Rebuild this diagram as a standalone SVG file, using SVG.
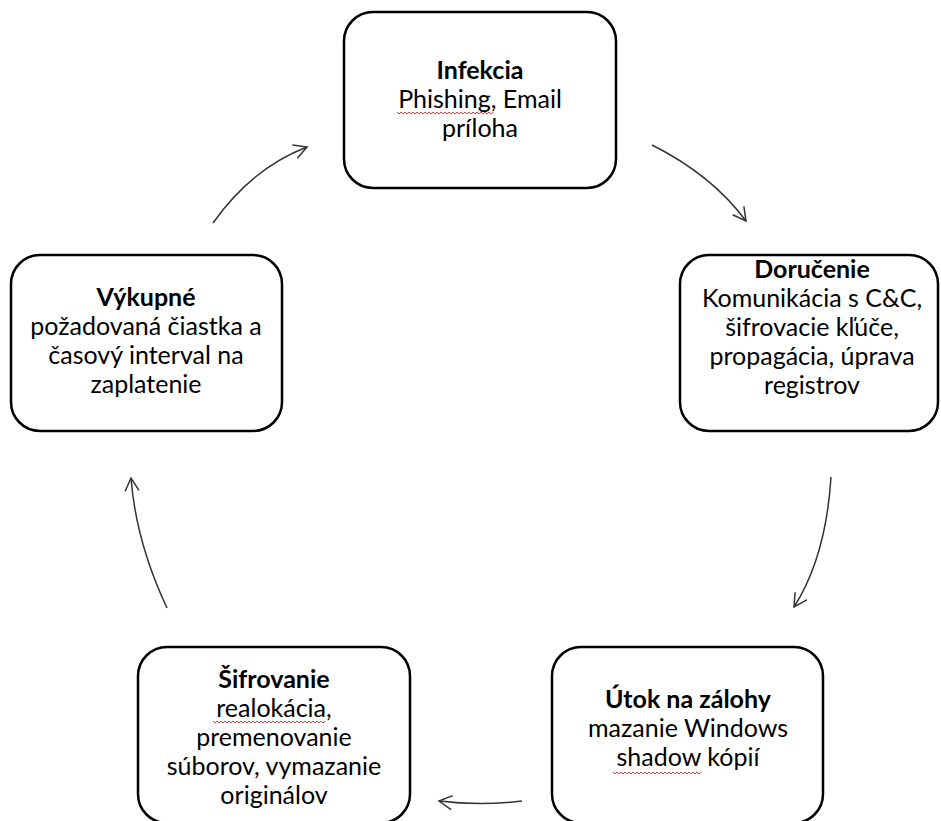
<svg xmlns="http://www.w3.org/2000/svg" width="941" height="821" viewBox="0 0 941 821">
<defs>
<style>
.box{fill:#fff;stroke:#000;stroke-width:2.5}
.t{font-family:Lato,"Open Sans","Liberation Sans",sans-serif;font-size:25px;fill:#000;text-anchor:middle}
.b{font-weight:bold}
.c{fill:none;stroke:#333;stroke-width:1.5}
.sq{fill:none;stroke:#e04040;stroke-width:1}
</style>
<marker id="ah" viewBox="0 0 16 16" refX="14" refY="8" markerWidth="16" markerHeight="16" markerUnits="userSpaceOnUse" orient="auto">
<path d="M1,1 L14,8 L1,15" fill="none" stroke="#333" stroke-width="1.5"/>
</marker>
</defs>
<rect width="941" height="821" fill="#fff"/>
<g id="connectors">
<path class="c" d="M213,223 Q252,168 307,147" marker-end="url(#ah)"/>
<path class="c" d="M652,145 Q712,175 746,221" marker-end="url(#ah)"/>
<path class="c" d="M831,477 Q826,557 794,607" marker-end="url(#ah)"/>
<path class="c" d="M522,801 Q480,806 439,801" marker-end="url(#ah)"/>
<path class="c" d="M167,608 Q136,542 131,478" marker-end="url(#ah)"/>
</g>
<g id="infekcia">
<rect class="box" x="344" y="12" width="272" height="176" rx="29"/>
<text class="t b" x="480" y="79">Infekcia</text>
<text class="t" x="480" y="108">Phishing, Email</text>
<text class="t" x="480" y="137">príloha</text>
<path class="sq" d="M397,112 l2,2 l2,-2 l2,2 l2,-2 l2,2 l2,-2 l2,2 l2,-2 l2,2 l2,-2 l2,2 l2,-2 l2,2 l2,-2 l2,2 l2,-2 l2,2 l2,-2 l2,2 l2,-2 l2,2 l2,-2 l2,2 l2,-2 l2,2 l2,-2 l2,2 l2,-2 l2,2 l2,-2 l2,2 l2,-2 l2,2 l2,-2 l2,2 l2,-2 l2,2 l2,-2 l2,2 l2,-2 l2,2 l2,-2 l2,2 l2,-2 l2,2 l2,-2 l2,2 l2,-2"/>
</g>
<g id="dorucenie">
<rect class="box" x="680" y="255" width="258" height="176" rx="29"/>
<text class="t b" x="812" y="278">Doručenie</text>
<text class="t" x="812" y="307">Komunikácia s C&amp;C,</text>
<text class="t" x="812" y="336">šifrovacie kľúče,</text>
<text class="t" x="812" y="365">propagácia, úprava</text>
<text class="t" x="812" y="394">registrov</text>
</g>
<g id="vykupne">
<rect class="box" x="11" y="255" width="271" height="176" rx="29"/>
<text class="t b" x="146" y="306">Výkupné</text>
<text class="t" x="146" y="335">požadovaná čiastka a</text>
<text class="t" x="146" y="364">časový interval na</text>
<text class="t" x="146" y="393">zaplatenie</text>
</g>
<g id="sifrovanie">
<rect class="box" x="138" y="647" width="272" height="176" rx="29"/>
<text class="t b" x="274" y="688">Šifrovanie</text>
<text class="t" x="274" y="717">realokácia,</text>
<text class="t" x="274" y="746">premenovanie</text>
<text class="t" x="274" y="775">súborov, vymazanie</text>
<text class="t" x="274" y="804">originálov</text>
<path class="sq" d="M213,721 l2,2 l2,-2 l2,2 l2,-2 l2,2 l2,-2 l2,2 l2,-2 l2,2 l2,-2 l2,2 l2,-2 l2,2 l2,-2 l2,2 l2,-2 l2,2 l2,-2 l2,2 l2,-2 l2,2 l2,-2 l2,2 l2,-2 l2,2 l2,-2 l2,2 l2,-2 l2,2 l2,-2 l2,2 l2,-2 l2,2 l2,-2 l2,2 l2,-2 l2,2 l2,-2 l2,2 l2,-2 l2,2 l2,-2 l2,2 l2,-2 l2,2 l2,-2 l2,2 l2,-2 l2,2 l2,-2 l2,2 l2,-2 l2,2 l2,-2 l2,2 l2,-2"/>
</g>
<g id="utok">
<rect class="box" x="552" y="647" width="271" height="176" rx="29"/>
<text class="t b" x="688" y="708">Útok na zálohy</text>
<text class="t" x="688" y="737">mazanie Windows</text>
<text class="t" x="688" y="766">shadow kópií</text>
<path class="sq" d="M613,772 l2,2 l2,-2 l2,2 l2,-2 l2,2 l2,-2 l2,2 l2,-2 l2,2 l2,-2 l2,2 l2,-2 l2,2 l2,-2 l2,2 l2,-2 l2,2 l2,-2 l2,2 l2,-2 l2,2 l2,-2 l2,2 l2,-2 l2,2 l2,-2 l2,2 l2,-2 l2,2 l2,-2 l2,2 l2,-2 l2,2 l2,-2 l2,2 l2,-2 l2,2 l2,-2 l2,2 l2,-2 l2,2 l2,-2 l2,2 l2,-2"/>
</g>
</svg>
